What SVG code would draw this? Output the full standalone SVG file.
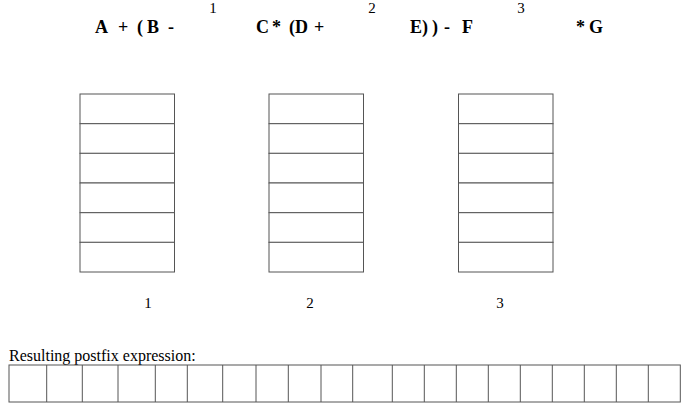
<svg xmlns="http://www.w3.org/2000/svg" width="687" height="414" viewBox="0 0 687 414">
<style>
.expr{font-family:"Liberation Serif","Times New Roman",serif;font-weight:bold;font-size:18px;fill:#000}
.num{font-family:"Liberation Serif","Times New Roman",serif;font-size:15px;fill:#000}
.lbl{font-family:"Liberation Serif","Times New Roman",serif;font-size:16px;fill:#000}
.cell{fill:#fff;stroke:#555;stroke-width:1}
</style>
<rect width="687" height="414" fill="#fff"/>
<g id="expression">
<text class="expr" y="33"><tspan x="95">A</tspan><tspan x="118">+</tspan><tspan x="137">(</tspan><tspan x="147">B</tspan><tspan x="168">-</tspan></text>
<text class="expr" y="33"><tspan x="256">C</tspan><tspan x="272">*</tspan><tspan x="289">(D</tspan><tspan x="314">+</tspan></text>
<text class="expr" y="33"><tspan x="410">E)</tspan><tspan x="432">)</tspan><tspan x="444">-</tspan><tspan x="462">F</tspan></text>
<text class="expr" y="33"><tspan x="576">*</tspan><tspan x="589">G</tspan></text>
<text class="num" x="213" y="13" text-anchor="middle">1</text>
<text class="num" x="372" y="13" text-anchor="middle">2</text>
<text class="num" x="521" y="13" text-anchor="middle">3</text>
</g>
<g id="stack1">
<rect class="cell" x="80" y="94" width="94.5" height="29.7"/>
<rect class="cell" x="80" y="123.7" width="94.5" height="29.7"/>
<rect class="cell" x="80" y="153.3" width="94.5" height="29.7"/>
<rect class="cell" x="80" y="183" width="94.5" height="29.7"/>
<rect class="cell" x="80" y="212.7" width="94.5" height="29.7"/>
<rect class="cell" x="80" y="242.3" width="94.5" height="29.7"/>
<text class="num" x="148" y="308" text-anchor="middle">1</text>
</g>
<g id="stack2">
<rect class="cell" x="269" y="94" width="94.5" height="29.7"/>
<rect class="cell" x="269" y="123.7" width="94.5" height="29.7"/>
<rect class="cell" x="269" y="153.3" width="94.5" height="29.7"/>
<rect class="cell" x="269" y="183" width="94.5" height="29.7"/>
<rect class="cell" x="269" y="212.7" width="94.5" height="29.7"/>
<rect class="cell" x="269" y="242.3" width="94.5" height="29.7"/>
<text class="num" x="310" y="308" text-anchor="middle">2</text>
</g>
<g id="stack3">
<rect class="cell" x="458.5" y="94" width="94.5" height="29.7"/>
<rect class="cell" x="458.5" y="123.7" width="94.5" height="29.7"/>
<rect class="cell" x="458.5" y="153.3" width="94.5" height="29.7"/>
<rect class="cell" x="458.5" y="183" width="94.5" height="29.7"/>
<rect class="cell" x="458.5" y="212.7" width="94.5" height="29.7"/>
<rect class="cell" x="458.5" y="242.3" width="94.5" height="29.7"/>
<text class="num" x="500" y="308" text-anchor="middle">3</text>
</g>
<g id="postfix">
<text class="lbl" x="9" y="360.5">Resulting postfix expression:</text>
<rect class="cell" x="9" y="365" width="671.3" height="37"/>
<path d="M46.7 365V402M82.3 365V402M118 365V402M155.3 365V402M187.3 365V402M222.7 365V402M256 365V402M288.3 365V402M321 365V402M352.7 365V402M392.3 365V402M424.3 365V402M456.3 365V402M488.3 365V402M520.3 365V402M552.3 365V402M584.3 365V402M616.3 365V402M648.3 365V402" stroke="#555" stroke-width="1" fill="none"/>
</g>
<g id="connectors"></g>
</svg>
